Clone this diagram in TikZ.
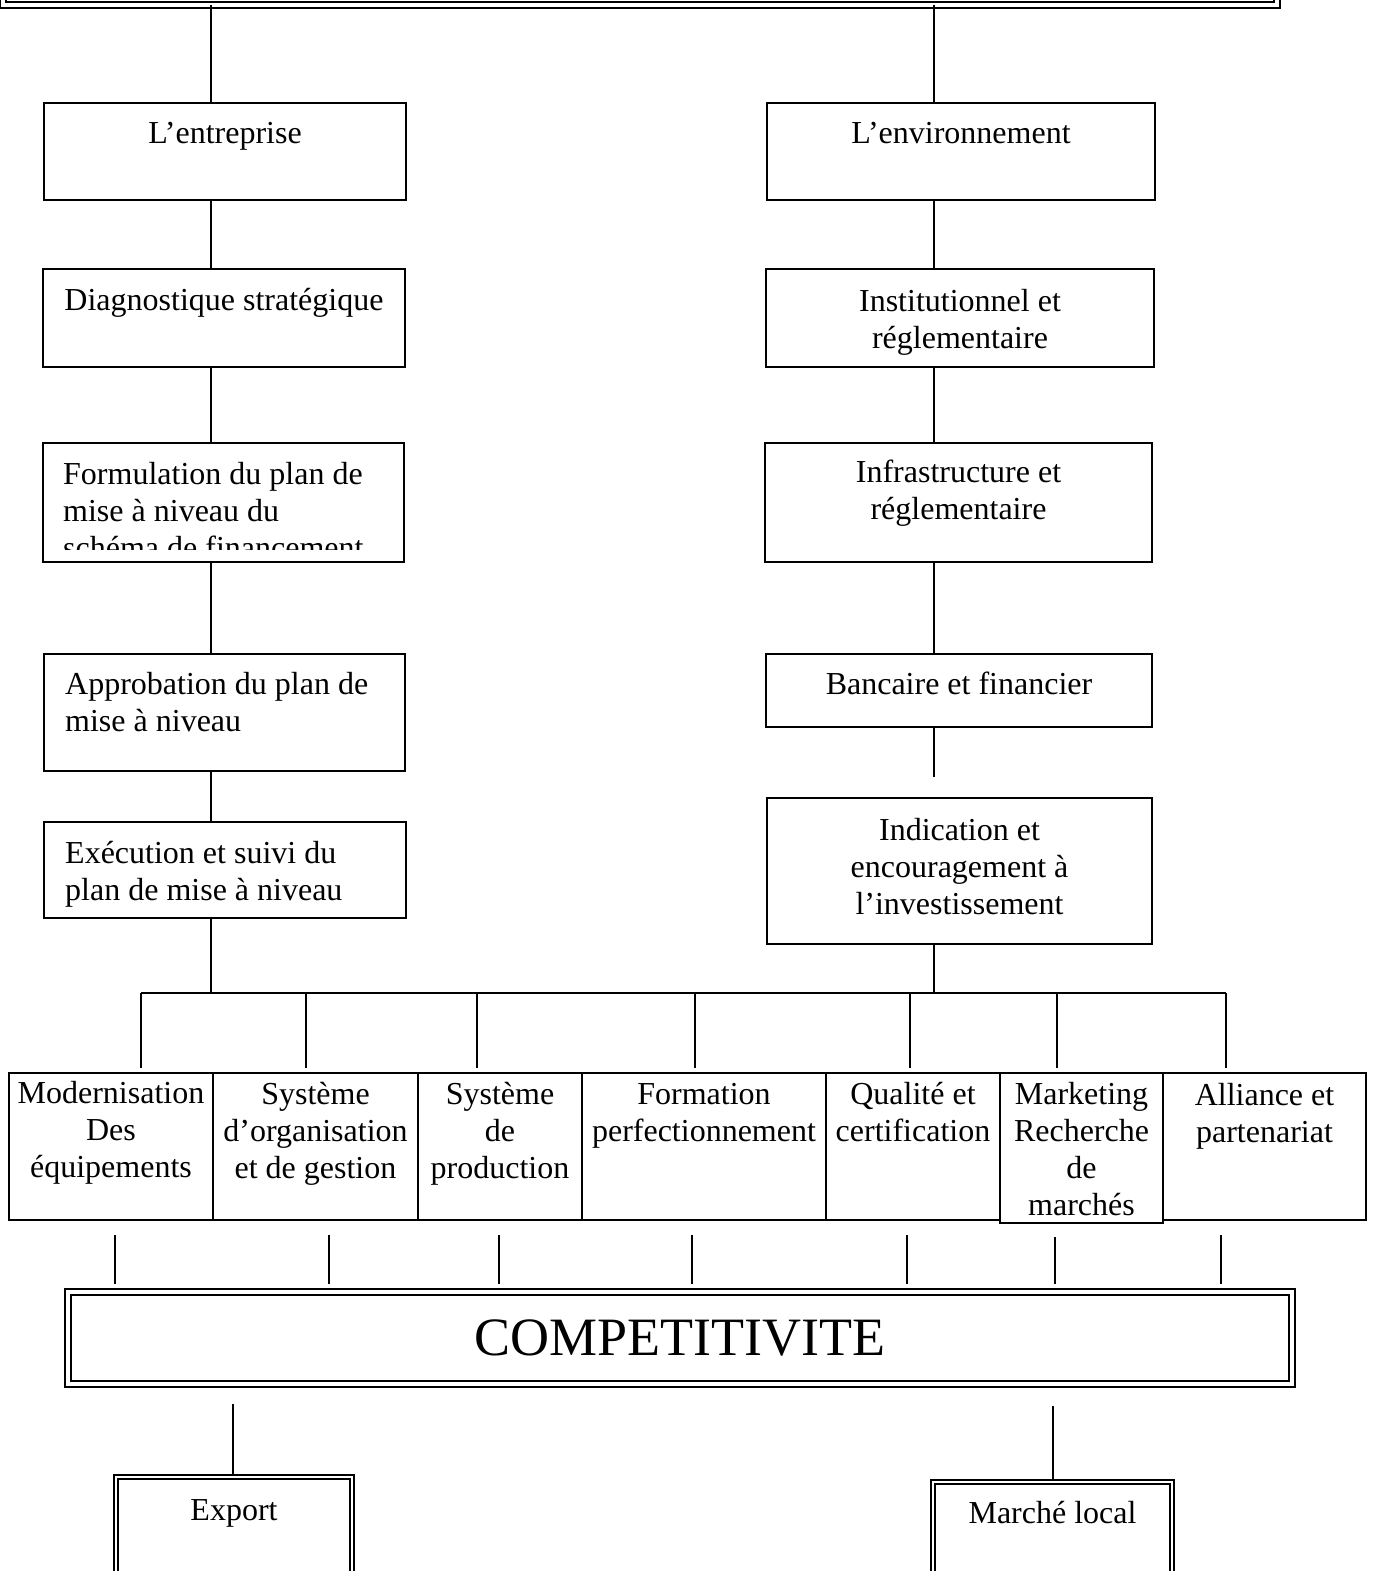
\documentclass[tikz,border=0pt]{standalone}
\usepackage{fontspec}
\setmainfont{Liberation Serif}
\usetikzlibrary{positioning}

\begin{document}
\begin{tikzpicture}[
    x=1pt, y=-1pt,
    box/.style={draw, line width=2.4pt, inner sep=0pt, outer sep=0pt},
    dbox/.style={draw, line width=2pt, double, double distance=4pt, inner sep=0pt, outer sep=0pt},
    txt/.style={font=\fontsize{32}{37}\selectfont, inner sep=0pt, execute at begin node=\strut},
    link/.style={line width=2.2pt},
  ]
  \useasboundingbox (0,0) rectangle (1374,1571);
  \clip (0,0) rectangle (1374,1571);

  % top banner (cut by the page)
  \node[dbox, minimum width=1274pt, minimum height=110pt] (top) at (640,-50) {};

  % left column: the firm
  \node[box, minimum width=362pt, minimum height=97pt] (ent) at (225,151.5) {};
  \node[txt, below=14pt of ent.north] (ent-t) {L’entreprise};
  \node[box, minimum width=362pt, minimum height=98pt] (diag) at (224,318) {};
  \node[txt, below=15pt of diag.north] (diag-t) {Diagnostique stratégique};
  \node[box, minimum width=361pt, minimum height=119pt] (form) at (223.5,502.5) {};
  \begin{scope}
    \clip (form.north west) rectangle ([yshift=13pt]form.south east);
    \node[txt, align=left, below right=19pt and 20pt of form.north west] (form-t)
      {Formulation du plan de\\mise à niveau du\\schéma de financement};
  \end{scope}
  \node[box, minimum width=361pt, minimum height=117pt] (appr) at (224.5,712.5) {};
  \node[txt, align=left, below right=18pt and 21pt of appr.north west] (appr-t)
    {Approbation du plan de\\mise à niveau};
  \node[box, minimum width=362pt, minimum height=96pt] (exe) at (225,870) {};
  \node[txt, align=left, below right=19pt and 21pt of exe.north west] (exe-t)
    {Exécution et suivi du\\plan de mise à niveau};

  % right column: the environment
  \node[box, minimum width=388pt, minimum height=97pt] (env) at (961,151.5) {};
  \node[txt, below=14pt of env.north] (env-t) {L’environnement};
  \node[box, minimum width=388pt, minimum height=98pt] (inst) at (960,318) {};
  \node[txt, align=center, below=20pt of inst.north] (inst-t) {Institutionnel et\\réglementaire};
  \node[box, minimum width=387pt, minimum height=119pt] (infra) at (958.5,502.5) {};
  \node[txt, align=center, below=17pt of infra.north] (infra-t) {Infrastructure et\\réglementaire};
  \node[box, minimum width=386pt, minimum height=73pt] (banc) at (959,690.5) {};
  \node[txt, below=14pt of banc.north] (banc-t) {Bancaire et financier};
  \node[box, minimum width=385pt, minimum height=146pt] (ind) at (959.5,871) {};
  \node[txt, align=center, below=20pt of ind.north] (ind-t)
    {Indication et\\encouragement à\\l’investissement};

  \coordinate (lx) at (211,0);
  \coordinate (rx) at (934,0);
  \draw[link] (lx |- top.south) -- (lx |- ent.north);
  \draw[link] (lx |- ent.south) -- (lx |- diag.north);
  \draw[link] (lx |- diag.south) -- (lx |- form.north);
  \draw[link] (lx |- form.south) -- (lx |- appr.north);
  \draw[link] (lx |- appr.south) -- (lx |- exe.north);
  \draw[link] (rx |- top.south) -- (rx |- env.north);
  \draw[link] (rx |- env.south) -- (rx |- inst.north);
  \draw[link] (rx |- inst.south) -- (rx |- infra.north);
  \draw[link] (rx |- infra.south) -- (rx |- banc.north);
  \draw[link] (rx |- banc.south) -- ++(0,50);

  % row of levers
  \node[box, anchor=north west, minimum width=204pt, minimum height=147pt] (c1) at (9,1073) {};
  \node[box, right=0pt of c1, minimum width=205pt, minimum height=147pt] (c2) {};
  \node[box, right=0pt of c2, minimum width=164pt, minimum height=147pt] (c3) {};
  \node[box, right=0pt of c3, minimum width=244pt, minimum height=147pt] (c4) {};
  \node[box, right=0pt of c4, minimum width=174pt, minimum height=147pt] (c5) {};
  \node[box, right=0pt of c5.north east, anchor=north west, minimum width=163pt, minimum height=150pt] (c6) {};
  \node[box, right=0pt of c6.north east, anchor=north west, minimum width=203pt, minimum height=147pt] (c7) {};
  \node[txt, align=center, below=8pt of c1.north] (c1-t) {Modernisation\\Des\\équipements};
  \node[txt, align=center, below=9pt of c2.north] (c2-t) {Système\\d’organisation\\et de gestion};
  \node[txt, align=center, below=9pt of c3.north] (c3-t) {Système\\de\\production};
  \node[txt, align=center, below=10pt of c4.north] (c4-t) {Formation\\perfectionnement};
  \node[txt, align=center, below=9pt of c5.north] (c5-t) {Qualité et\\certification};
  \node[txt, align=center, below=9pt of c6.north] (c6-t) {Marketing\\Recherche\\de\\marchés};
  \node[txt, align=center, below=10pt of c7.north] (c7-t) {Alliance et\\partenariat};

  \coordinate (busL) at (141,993);
  \coordinate (busR) at (1226,993);
  \draw[link] (lx |- exe.south) -- (lx |- busL);
  \draw[link] (rx |- ind.south) -- (rx |- busR);
  \draw[link] (busL) -- (busR);
  \draw[link, shorten >=5pt] (busL) -- (busL |- c1.north);
  \draw[link, shorten >=5pt] (306,993) -- (306,0 |- c2.north);
  \draw[link, shorten >=5pt] (477,993) -- (477,0 |- c3.north);
  \draw[link, shorten >=5pt] (695,993) -- (695,0 |- c4.north);
  \draw[link, shorten >=5pt] (910,993) -- (910,0 |- c5.north);
  \draw[link, shorten >=5pt] (1057,993) -- (1057,0 |- c6.north);
  \draw[link, shorten >=5pt] (busR) -- (busR |- c7.north);

  % competitiveness and markets
  \node[dbox, minimum width=1223.5pt, minimum height=91.5pt,
    font=\fontsize{54}{62}\selectfont] (comp) at (680,1338) {COMPETITIVITE};
  \draw[link, shorten <=15pt, shorten >=8pt] (115,0 |- c1.south) -- (115,0 |- comp.north);
  \draw[link, shorten <=15pt, shorten >=8pt] (329,0 |- c2.south) -- (329,0 |- comp.north);
  \draw[link, shorten <=15pt, shorten >=8pt] (499,0 |- c3.south) -- (499,0 |- comp.north);
  \draw[link, shorten <=15pt, shorten >=8pt] (692,0 |- c4.south) -- (692,0 |- comp.north);
  \draw[link, shorten <=15pt, shorten >=8pt] (907,0 |- c5.south) -- (907,0 |- comp.north);
  \draw[link, shorten <=14pt, shorten >=8pt] (1055,0 |- c6.south) -- (1055,0 |- comp.north);
  \draw[link, shorten <=15pt, shorten >=8pt] (1221,0 |- c7.south) -- (1221,0 |- comp.north);

  \node[dbox, double distance=2.5pt, minimum width=236pt, minimum height=150pt] (exp) at (234,1552) {};
  \node[txt, anchor=base] (exp-t) at ([yshift=-43pt]exp.north) {Export};
  \node[dbox, double distance=2.5pt, minimum width=239pt, minimum height=150pt] (loc) at (1052.5,1557) {};
  \node[txt, anchor=base] (loc-t) at ([yshift=-41pt]loc.north) {Marché local};
  \draw[link, shorten <=20pt, shorten >=3pt] (233,0 |- comp.south) -- (233,0 |- exp.north);
  \draw[link, shorten <=22pt, shorten >=3pt] (1053,0 |- comp.south) -- (1053,0 |- loc.north);
\end{tikzpicture}
\end{document}
